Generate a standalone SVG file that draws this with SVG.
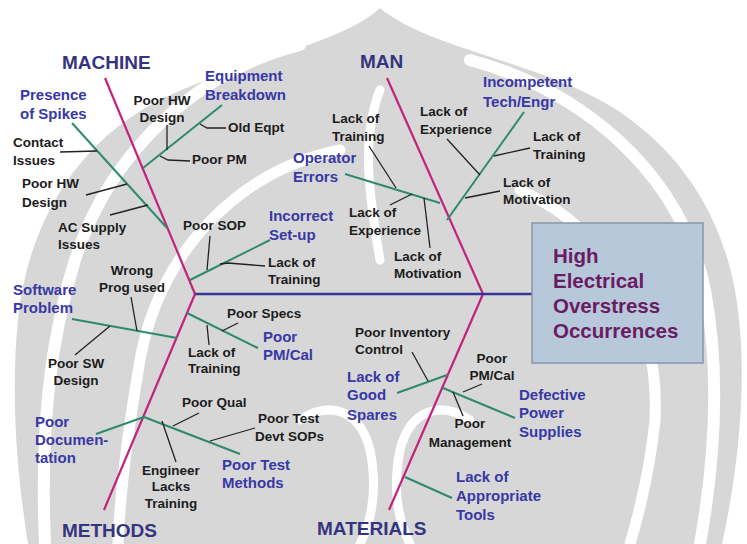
<svg xmlns="http://www.w3.org/2000/svg" width="747" height="544" viewBox="0 0 747 544">
<style>
.t{font-family:"Liberation Sans",Arial,sans-serif;font-weight:bold;font-size:19px;fill:#35357f}
.b{font-family:"Liberation Sans",Arial,sans-serif;font-weight:bold;font-size:15px;fill:#3838a6}
.k{font-family:"Liberation Sans",Arial,sans-serif;font-weight:bold;font-size:13.5px;fill:#1c1c1c}
.h{font-family:"Liberation Sans",Arial,sans-serif;font-weight:bold;font-size:20.5px;fill:#6a1c62}
.bone{stroke:#c3237a;stroke-width:2.2;fill:none}
.spine{stroke:#34349a;stroke-width:2.6;fill:none}
.g{stroke:#2d8a6f;stroke-width:2;fill:none}
.l{stroke:#222;stroke-width:1.3;fill:none}
.wm{fill:#d7d7d7}
.ws{stroke:#fff;fill:none;stroke-linecap:round}
</style>
<rect width="747" height="544" fill="#fff"/>
<g id="watermark">
<path class="wm" d="M380,8 C340,45 240,60 160,100 C80,140 28,220 18,320 C10,400 18,480 28,544 L722,544 C736,480 746,400 740,330 C733,232 690,160 620,112 C545,62 430,50 380,8 Z"/>
<path class="ws" stroke-width="12" d="M300,45 C200,70 110,150 75,260 C50,340 40,430 45,544"/>
<path class="ws" stroke-width="11" d="M340,150 C240,170 160,250 140,360 C128,430 120,490 118,544"/>
<path class="ws" stroke-width="12" d="M470,60 C580,90 680,170 705,290 C720,370 715,460 700,544"/>
<path class="ws" stroke-width="11" d="M520,190 C610,230 660,320 655,420 C650,470 640,510 630,544"/>
<path class="ws" stroke-width="9" d="M380,90 C360,140 370,200 380,260"/>
<path class="ws" stroke-width="9" d="M300,420 C330,400 360,410 370,450 C378,490 372,520 360,544"/>
<path class="ws" stroke-width="9" d="M470,420 C440,400 410,410 400,450 C392,490 398,520 410,544"/>
</g>
<g id="connectors">
<line class="bone" x1="105" y1="78" x2="195" y2="294"/>
<line class="bone" x1="195" y1="294" x2="104" y2="510"/>
<line class="bone" x1="387" y1="78" x2="483" y2="294"/>
<line class="bone" x1="483" y1="294" x2="389" y2="510"/>
<line class="spine" x1="195" y1="294" x2="532" y2="294"/>
<line class="g" x1="72" y1="123" x2="167" y2="228"/>
<line class="g" x1="222" y1="105" x2="143" y2="168"/>
<line class="g" x1="270" y1="240" x2="190" y2="280"/>
<line class="g" x1="345" y1="174" x2="440" y2="203"/>
<line class="g" x1="524" y1="112" x2="447" y2="220"/>
<line class="g" x1="72" y1="319" x2="177" y2="338"/>
<line class="g" x1="187" y1="313" x2="258" y2="348"/>
<line class="g" x1="96" y1="434" x2="144" y2="417"/>
<line class="g" x1="144" y1="417" x2="240" y2="454"/>
<line class="g" x1="397" y1="393" x2="447" y2="375"/>
<line class="g" x1="443" y1="388" x2="515" y2="418"/>
<line class="g" x1="405" y1="477" x2="452" y2="498"/>
<line class="l" x1="167" y1="125" x2="167" y2="150"/>
<polyline class="l" points="200,124 207,128 226,128"/>
<polyline class="l" points="160,156 168,160 190,161"/>
<line class="l" x1="60" y1="152" x2="97" y2="151"/>
<line class="l" x1="86" y1="195" x2="127" y2="184"/>
<line class="l" x1="110" y1="215" x2="148" y2="205"/>
<line class="l" x1="210" y1="236" x2="207" y2="270"/>
<polyline class="l" points="220,264 228,263 265,266"/>
<line class="l" x1="369" y1="146" x2="396" y2="188"/>
<line class="l" x1="390" y1="205" x2="412" y2="194"/>
<line class="l" x1="424" y1="198" x2="430" y2="248"/>
<line class="l" x1="447" y1="139" x2="480" y2="175"/>
<line class="l" x1="494" y1="156" x2="530" y2="148"/>
<line class="l" x1="465" y1="198" x2="500" y2="191"/>
<line class="l" x1="131" y1="297" x2="137" y2="331"/>
<line class="l" x1="75" y1="355" x2="110" y2="326"/>
<line class="l" x1="222" y1="331" x2="238" y2="323"/>
<line class="l" x1="207" y1="325" x2="209" y2="345"/>
<line class="l" x1="173" y1="426" x2="199" y2="413"/>
<line class="l" x1="210" y1="441" x2="255" y2="428"/>
<line class="l" x1="162" y1="421" x2="176" y2="462"/>
<line class="l" x1="412" y1="352" x2="428" y2="381"/>
<line class="l" x1="463" y1="392" x2="482" y2="384"/>
<line class="l" x1="453" y1="392" x2="463" y2="416"/>
</g>
<g id="effect">
<rect x="532" y="223" width="171" height="140" fill="#b7c8da" stroke="#8797aa" stroke-width="1.5"/>
<text class="h" x="553" y="263">High</text>
<text class="h" x="553" y="288">Electrical</text>
<text class="h" x="553" y="313">Overstress</text>
<text class="h" x="553" y="338">Occurrences</text>
</g>
<g id="machine"><text class="t" x="62" y="69">MACHINE</text></g>
<g id="man"><text class="t" x="360" y="68">MAN</text></g>
<g id="methods"><text class="t" x="62" y="537">METHODS</text></g>
<g id="materials"><text class="t" x="317" y="535">MATERIALS</text></g>
<g id="presence-of-spikes"><text class="b" x="20" y="100">Presence</text><text class="b" x="20" y="119">of Spikes</text></g>
<g id="equipment-breakdown"><text class="b" x="205" y="81">Equipment</text><text class="b" x="205" y="100">Breakdown</text></g>
<g id="incorrect-setup"><text class="b" x="269" y="221">Incorrect</text><text class="b" x="269" y="240">Set-up</text></g>
<g id="operator-errors"><text class="b" x="293" y="163">Operator</text><text class="b" x="293" y="182">Errors</text></g>
<g id="incompetent"><text class="b" x="483" y="87">Incompetent</text><text class="b" x="483" y="107">Tech/Engr</text></g>
<g id="software-problem"><text class="b" x="13" y="295">Software</text><text class="b" x="13" y="313">Problem</text></g>
<g id="poor-pmcal"><text class="b" x="263" y="342">Poor</text><text class="b" x="263" y="360">PM/Cal</text></g>
<g id="poor-documentation"><text class="b" x="35" y="427">Poor</text><text class="b" x="35" y="445">Documen-</text><text class="b" x="35" y="463">tation</text></g>
<g id="poor-test-methods"><text class="b" x="222" y="470">Poor Test</text><text class="b" x="222" y="488">Methods</text></g>
<g id="lack-good-spares"><text class="b" x="347" y="382">Lack of</text><text class="b" x="347" y="400">Good</text><text class="b" x="347" y="420">Spares</text></g>
<g id="defective-power"><text class="b" x="519" y="400">Defective</text><text class="b" x="519" y="418">Power</text><text class="b" x="519" y="437">Supplies</text></g>
<g id="lack-tools"><text class="b" x="456" y="482">Lack of</text><text class="b" x="456" y="501">Appropriate</text><text class="b" x="456" y="520">Tools</text></g>
<g id="c-poor-hw-design-1"><text class="k" x="162" y="105" text-anchor="middle">Poor HW</text><text class="k" x="162" y="122" text-anchor="middle">Design</text></g>
<g id="c-old-eqpt"><text class="k" x="228" y="132">Old Eqpt</text></g>
<g id="c-poor-pm"><text class="k" x="192" y="164">Poor PM</text></g>
<g id="c-contact"><text class="k" x="13" y="147">Contact</text><text class="k" x="13" y="165">Issues</text></g>
<g id="c-poor-hw-design-2"><text class="k" x="22" y="188">Poor HW</text><text class="k" x="22" y="207">Design</text></g>
<g id="c-ac-supply"><text class="k" x="58" y="232">AC Supply</text><text class="k" x="58" y="249">Issues</text></g>
<g id="c-poor-sop"><text class="k" x="183" y="230">Poor SOP</text></g>
<g id="c-lack-training-1"><text class="k" x="268" y="267">Lack of</text><text class="k" x="268" y="284">Training</text></g>
<g id="c-lack-training-2"><text class="k" x="332" y="123">Lack of</text><text class="k" x="332" y="141">Training</text></g>
<g id="c-lack-experience-1"><text class="k" x="349" y="217">Lack of</text><text class="k" x="349" y="235">Experience</text></g>
<g id="c-lack-motivation-1"><text class="k" x="394" y="261">Lack of</text><text class="k" x="394" y="278">Motivation</text></g>
<g id="c-lack-experience-2"><text class="k" x="420" y="116">Lack of</text><text class="k" x="420" y="134">Experience</text></g>
<g id="c-lack-training-3"><text class="k" x="533" y="141">Lack of</text><text class="k" x="533" y="159">Training</text></g>
<g id="c-lack-motivation-2"><text class="k" x="503" y="187">Lack of</text><text class="k" x="503" y="204">Motivation</text></g>
<g id="c-wrong-prog"><text class="k" x="132" y="275" text-anchor="middle">Wrong</text><text class="k" x="132" y="292" text-anchor="middle">Prog used</text></g>
<g id="c-poor-specs"><text class="k" x="227" y="318">Poor Specs</text></g>
<g id="c-lack-training-4"><text class="k" x="188" y="357">Lack of</text><text class="k" x="188" y="373">Training</text></g>
<g id="c-poor-sw"><text class="k" x="76" y="368" text-anchor="middle">Poor SW</text><text class="k" x="76" y="385" text-anchor="middle">Design</text></g>
<g id="c-poor-qual"><text class="k" x="182" y="407">Poor Qual</text></g>
<g id="c-poor-test-devt"><text class="k" x="258" y="423">Poor Test</text><text class="k" x="255" y="441">Devt SOPs</text></g>
<g id="c-engineer"><text class="k" x="171" y="475" text-anchor="middle">Engineer</text><text class="k" x="171" y="491" text-anchor="middle">Lacks</text><text class="k" x="171" y="508" text-anchor="middle">Training</text></g>
<g id="c-inventory"><text class="k" x="355" y="337">Poor Inventory</text><text class="k" x="355" y="354">Control</text></g>
<g id="c-poor-pmcal-2"><text class="k" x="492" y="363" text-anchor="middle">Poor</text><text class="k" x="492" y="380" text-anchor="middle">PM/Cal</text></g>
<g id="c-poor-management"><text class="k" x="470" y="428" text-anchor="middle">Poor</text><text class="k" x="470" y="447" text-anchor="middle">Management</text></g>
</svg>
